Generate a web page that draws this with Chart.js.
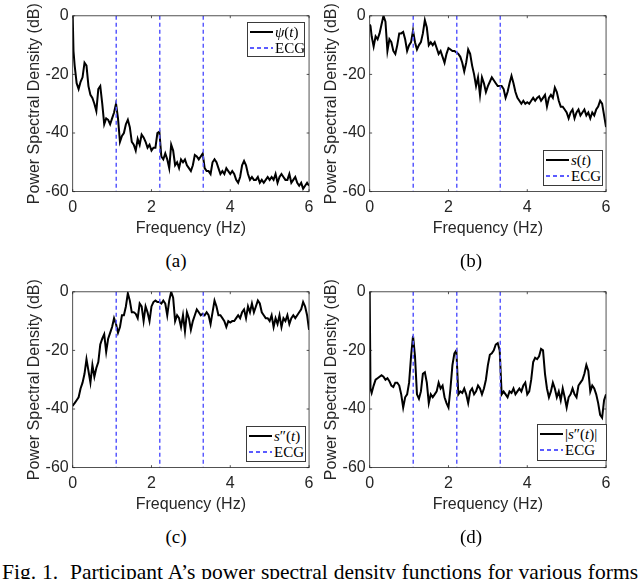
<!DOCTYPE html>
<html>
<head>
<meta charset="utf-8">
<script src="https://cdn.jsdelivr.net/npm/chart.js@4.4.1/dist/chart.umd.min.js"></script>
<style>
body { margin: 0; background: #fff; }
#fig { position: relative; width: 640px; height: 579px; overflow: hidden; }
#fig canvas { position: absolute; }
.legend { position: absolute; background: #fff; border: 1px solid #3a3a3a; box-sizing: border-box;
  font-family: "Liberation Serif", "Times New Roman", serif; font-size: 15px; color: #000; padding: 1px 2px; }
.legend .row { display: flex; align-items: center; height: 16px; white-space: nowrap; }
.legend .solid { width: 23px; height: 2px; background: #000; margin-right: 2px; flex: none; }
.legend .dash { width: 23px; height: 1.5px; margin-right: 2px; flex: none;
  background: repeating-linear-gradient(90deg, #5b5bff 0 4px, transparent 4px 7px); }
.sub { position: absolute; width: 60px; text-align: center; font-family: "Liberation Serif", "Times New Roman", serif;
  font-size: 19px; line-height: 19px; color: #000; }
#caption { position: absolute; left: 2px; width: 636px; top: 561.5px; font-family: "Liberation Serif", "Times New Roman", serif;
  font-size: 21.5px; line-height: 21.5px; text-align: justify; text-align-last: justify; color: #000; }
</style>
</head>
<body>
<div id="fig">
  <canvas id="pa" width="320" height="238" style="left:0;top:0"></canvas>
  <canvas id="pb" width="320" height="238" style="left:296.6px;top:0"></canvas>
  <canvas id="pc" width="320" height="238" style="left:0;top:276px"></canvas>
  <canvas id="pd" width="320" height="238" style="left:296.6px;top:276px"></canvas>

  <div class="legend" style="left:247px;top:22px;width:58px;height:35px">
    <div class="row"><span class="solid"></span><span><i>ψ</i>(<i>t</i>)</span></div>
    <div class="row"><span class="dash"></span><span>ECG</span></div>
  </div>
  <div class="legend" style="left:543px;top:150px;width:60px;height:36px">
    <div class="row"><span class="solid"></span><span><i>s</i>(<i>t</i>)</span></div>
    <div class="row"><span class="dash"></span><span>ECG</span></div>
  </div>
  <div class="legend" style="left:246px;top:426px;width:60px;height:36px">
    <div class="row"><span class="solid"></span><span><i>s</i>″(<i>t</i>)</span></div>
    <div class="row"><span class="dash"></span><span>ECG</span></div>
  </div>
  <div class="legend" style="left:537px;top:424px;width:70px;height:37px">
    <div class="row"><span class="solid"></span><span>|<i>s</i>″(<i>t</i>)|</span></div>
    <div class="row"><span class="dash"></span><span>ECG</span></div>
  </div>

  <div class="sub" style="left:146px;top:250.5px">(a)</div>
  <div class="sub" style="left:441px;top:250.5px">(b)</div>
  <div class="sub" style="left:146px;top:527px">(c)</div>
  <div class="sub" style="left:441px;top:527px">(d)</div>

  <div id="caption">Fig. 1.&nbsp; Participant A’s power spectral density functions for various forms</div>
</div>

<script>
// frequency grid (Hz)
const freq = [
  0, 0.02, 0.05, 0.1, 0.15, 0.2, 0.25, 0.3, 0.35, 0.4,
  0.45, 0.5, 0.55, 0.6, 0.65, 0.7, 0.75, 0.8, 0.85, 0.9,
  0.95, 1.0, 1.05, 1.1, 1.15, 1.2, 1.25, 1.3, 1.35, 1.4,
  1.45, 1.5, 1.55, 1.6, 1.65, 1.7, 1.75, 1.8, 1.85, 1.9,
  1.95, 2.0, 2.05, 2.1, 2.15, 2.2, 2.25, 2.3, 2.35, 2.4,
  2.45, 2.5, 2.55, 2.6, 2.65, 2.7, 2.75, 2.8, 2.85, 2.9,
  2.95, 3.0, 3.05, 3.1, 3.15, 3.2, 3.25, 3.3, 3.35, 3.4,
  3.45, 3.5, 3.55, 3.6, 3.65, 3.7, 3.75, 3.8, 3.85, 3.9,
  3.95, 4.0, 4.05, 4.1, 4.15, 4.2, 4.25, 4.3, 4.35, 4.4,
  4.45, 4.5, 4.55, 4.6, 4.65, 4.7, 4.75, 4.8, 4.85, 4.9,
  4.95, 5.0, 5.05, 5.1, 5.15, 5.2, 5.25, 5.3, 5.35, 5.4,
  5.45, 5.5, 5.55, 5.6, 5.65, 5.7, 5.75, 5.8, 5.85, 5.9,
  5.95, 6.0
];

// (a) psi(t)
const psiPsd = [
  0, -12, -17, -23, -25, -22.5, -21, -16, -17, -24,
  -27, -28, -30, -32.5, -25, -24, -30, -37, -35, -35.5,
  -37, -35, -33, -30, -35, -43, -41, -40, -37, -35.5,
  -38, -43, -44, -46, -42, -44, -40.5, -41.5, -43, -45,
  -44, -46, -45, -45, -40, -39.5, -48, -49, -47, -49,
  -52, -44, -46, -51, -50, -52, -49, -50, -49, -51,
  -52, -53, -51, -47.5, -48, -49, -48, -47, -52, -53,
  -53, -54, -50, -49, -50, -52, -54, -53, -54, -52,
  -53, -54, -53, -54, -56, -57, -55, -51, -49.5, -51,
  -54, -56, -55, -56, -56, -55, -57, -56, -57, -56,
  -55, -56, -55, -56, -54, -57, -55, -54, -55, -56,
  -56, -54, -57, -56, -55, -57, -58, -57, -59, -58,
  -57, -58
];

// (b) s(t)
const sPsd = [
  -3, -3.5, -7, -10.5, -7, -8, -6, -3, 0, -2,
  -12, -8, -9, -12, -13, -10, -6, -6, -5.5, -8,
  -12, -10, -9, -5, -9, -11.5, -10, -9, -6, -1.5,
  -4, -10, -9, -10, -9, -11, -13, -12, -14, -16,
  -13, -11, -11.5, -12, -12, -12.5, -13, -14, -16, -19,
  -16, -11.5, -13, -17, -20, -24, -21, -27, -21, -23,
  -26, -24, -22.5, -21, -22, -23, -24, -24, -24, -25,
  -28, -26, -23, -20.5, -23, -26, -28, -29, -30, -29,
  -30, -29.5, -30, -29, -28, -29, -28, -27.5, -29, -28,
  -27, -31, -28, -27, -28, -24.5, -26, -29, -31, -31,
  -32, -33, -35, -33, -32, -35, -33, -32, -34, -33,
  -32, -34, -33, -35, -33, -34, -32, -31, -29, -30,
  -34, -38
];

// (c) s''(t)
const s2Psd = [
  -39, -38.5, -38, -37, -36, -33, -31, -28, -23, -27,
  -31, -25, -29, -26, -24, -18, -16, -14.5, -20.5, -16,
  -14, -12, -9, -11, -14, -12, -8, -8, -5, -0.5,
  -3, -7, -7, -7.5, -9, -4, -5, -10, -5, -7,
  -10, -5, -3.5, -3, -3.5, -3.5, -4, -3, -4, -8,
  -3, 0, -2, -10, -8, -9, -12, -8, -13.5, -7,
  -9, -13, -10, -8, -6, -7, -8, -7.5, -8, -7,
  -8, -11, -7, -3, -5, -8, -8, -9, -10, -12,
  -10, -10.5, -10, -10, -9, -8, -9, -7, -6, -9,
  -5, -7, -4, -7, -5, -3, -4, -7, -8, -9,
  -9, -10, -8, -12, -9, -11, -8, -12, -9, -10,
  -8, -11, -9, -8, -9, -8, -7, -6, -3.5, -5,
  -8, -13
];

// (d) |s''(t)|
const absS2Psd = [
  0, -33, -34.5, -32, -30, -29.5, -29, -28.5, -29, -30,
  -29.5, -30.5, -32, -32.5, -31, -31, -32, -35, -39.5, -36,
  -35, -31, -22, -15, -22, -35, -36.5, -34, -28, -27.5,
  -31, -38, -35, -36, -35, -34, -31, -33, -32, -36,
  -38, -39.5, -33, -25, -21, -20, -35, -34, -34.5, -33,
  -35, -38, -34, -33, -35, -34, -32, -33, -35, -33,
  -30, -25, -21.5, -21, -20, -18, -17.5, -20, -35, -34,
  -35, -36, -34, -34.5, -33, -35, -34, -33, -34, -32,
  -31, -35, -34, -30, -24, -22.5, -23, -22, -19.5, -20,
  -28, -33, -36, -34, -31, -33, -36, -34, -37, -33,
  -36, -39.5, -36, -35, -33, -35, -36, -32, -31, -30,
  -28, -25, -27, -34, -32, -33, -35, -38, -42, -43,
  -37, -35
];

// ECG heart rate and harmonics (Hz)
const ecgFreqs = [1.105, 2.21, 3.315];

const yMin = -60, yMax = 0;
const axisFont = { family: '"Liberation Sans", Arial, sans-serif', size: 16 };
const axisColor = '#262626';

// MATLAB style box with inward ticks on all four sides
const boxPlugin = {
  id: 'matlabBox',
  afterDraw(chart) {
    const { ctx, chartArea: a, scales: { x, y } } = chart;
    const tl = 2.4;
    ctx.save();
    ctx.strokeStyle = axisColor;
    ctx.lineWidth = 0.8;
    ctx.strokeRect(a.left, a.top, a.right - a.left, a.bottom - a.top);
    ctx.beginPath();
    x.ticks.forEach(t => {
      const px = x.getPixelForValue(t.value);
      ctx.moveTo(px, a.bottom); ctx.lineTo(px, a.bottom - tl);
      ctx.moveTo(px, a.top); ctx.lineTo(px, a.top + tl);
    });
    y.ticks.forEach(t => {
      const py = y.getPixelForValue(t.value);
      ctx.moveTo(a.left, py); ctx.lineTo(a.left + tl, py);
      ctx.moveTo(a.right, py); ctx.lineTo(a.right - tl, py);
    });
    ctx.stroke();
    ctx.restore();
  }
};

function ecgPoints() {
  const pts = [];
  ecgFreqs.forEach(f => {
    pts.push({ x: f, y: yMax }, { x: f, y: yMin }, { x: f, y: null });
  });
  return pts;
}

function makePanel(id, values) {
  new Chart(document.getElementById(id), {
    type: 'line',
    data: {
      datasets: [
        {
          label: 'ECG',
          data: ecgPoints(),
          borderColor: '#5b5bff',
          borderWidth: 1.5,
          borderDash: [4, 3],
          pointRadius: 0,
          fill: false,
          spanGaps: false
        },
        {
          label: 'PSD',
          data: freq.map((f, i) => ({ x: f, y: values[i] })),
          borderColor: '#000',
          borderWidth: 2,
          pointRadius: 0,
          tension: 0,
          fill: false
        }
      ]
    },
    options: {
      responsive: false,
      animation: false,
      events: [],
      layout: { padding: { left: 25.4, right: 8.3, top: 15.8, bottom: 0 } },
      plugins: { legend: { display: false }, tooltip: { enabled: false } },
      scales: {
        x: {
          type: 'linear', min: 0, max: 6,
          ticks: { stepSize: 2, color: axisColor, font: axisFont, padding: 6.5, maxRotation: 0 },
          grid: { display: false, drawTicks: false },
          border: { display: false },
          title: { display: true, text: 'Frequency (Hz)', color: axisColor, font: axisFont, padding: 0 },
          afterFit(s) { s.height = 46.4; }
        },
        y: {
          min: yMin, max: yMax,
          ticks: { stepSize: 20, color: axisColor, font: axisFont, padding: 4 },
          grid: { display: false, drawTicks: false },
          border: { display: false },
          title: { display: true, text: 'Power Spectral Density (dB)', color: axisColor, font: axisFont, padding: 0 },
          afterFit(s) { s.width = 47.3; }
        }
      }
    },
    plugins: [boxPlugin]
  });
}

makePanel('pa', psiPsd);
makePanel('pb', sPsd);
makePanel('pc', s2Psd);
makePanel('pd', absS2Psd);
</script>
</body>
</html>
